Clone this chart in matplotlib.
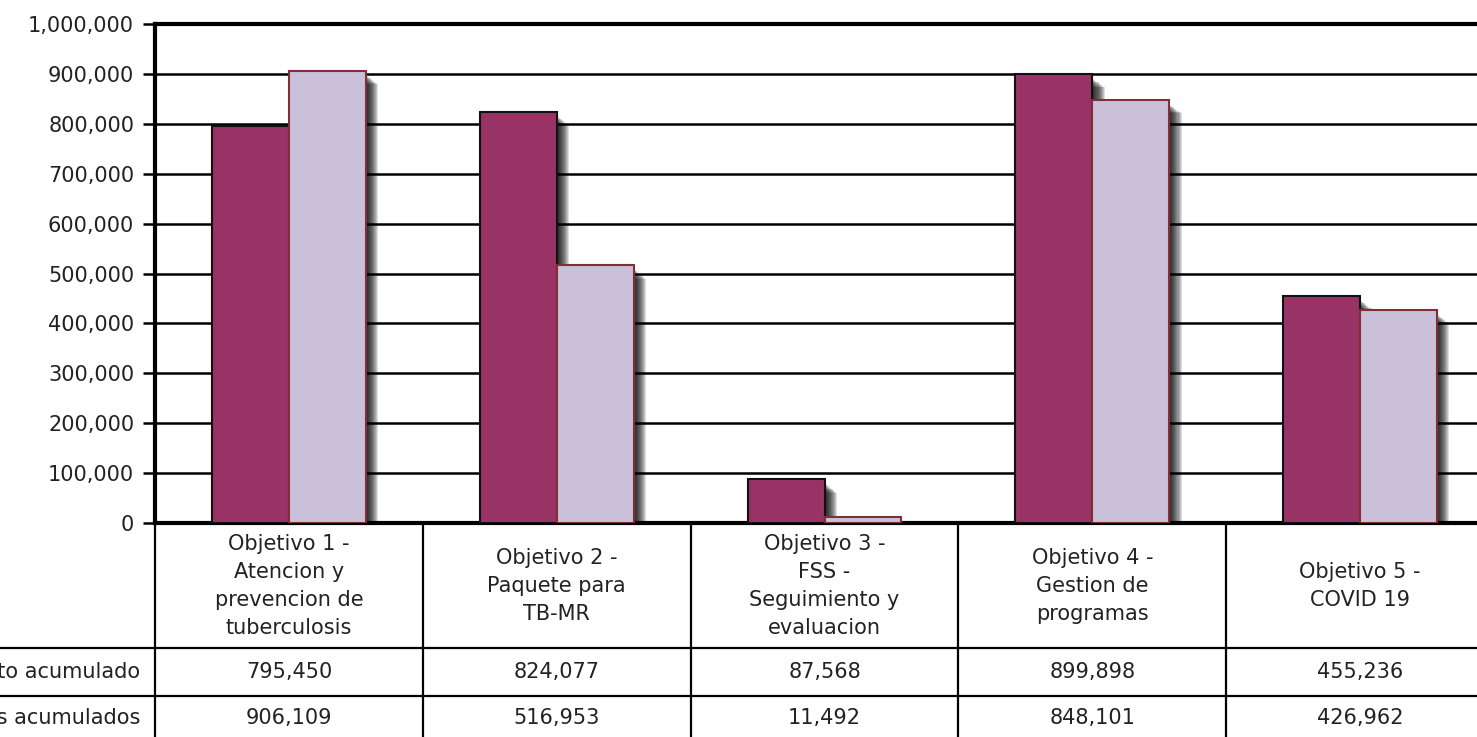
import matplotlib
matplotlib.use("Agg")
import matplotlib.pyplot as plt
import matplotlib.patheffects as pe
from matplotlib.lines import Line2D
from matplotlib.transforms import blended_transform_factory
from matplotlib.ticker import FuncFormatter

categorias = ["Objetivo 1 -\nAtencion y\nprevencion de\ntuberculosis",
              "Objetivo 2 -\nPaquete para\nTB-MR",
              "Objetivo 3 -\nFSS -\nSeguimiento y\nevaluacion",
              "Objetivo 4 -\nGestion de\nprogramas",
              "Objetivo 5 -\nCOVID 19"]
serie_nombres = ["Presupuesto acumulado", "Gastos acumulados"]
presupuesto = [795450, 824077, 87568, 899898, 455236]
gastos = [906109, 516953, 11492, 848101, 426962]

W, H = 1477, 737
fig = plt.figure(figsize=(W / 100, H / 100), dpi=100)
ax = fig.add_axes([155 / W, (H - 523) / H, (1494 - 155) / W, (523 - 24) / H])

txt = "#222222"
fs = 15
x = range(len(categorias))
bw = 0.287

def sombra():
    capas = []
    o = 1.5
    while o <= 9:
        capas.append(pe.SimplePatchShadow(offset=(o, -o * 0.8 - 2.5),
                                          shadow_rgbFace="black", alpha=0.13))
        o += 0.75
    return capas + [pe.Normal()]

for i in x:
    ax.bar(i - bw / 2, presupuesto[i], bw, color="#993366", edgecolor="#111111",
           lw=1.5, zorder=3, path_effects=sombra())
    ax.bar(i + bw / 2, gastos[i], bw, color="#CAC0DA", edgecolor="#7F2F35",
           lw=1.5, zorder=4, path_effects=sombra())

ax.set_xlim(-0.5, 4.5)
ax.set_ylim(0, 1000000)
ax.set_yticks(range(0, 1000001, 100000))
ax.yaxis.set_major_formatter(FuncFormatter(lambda v, p: f"{int(v):,}"))
ax.set_xticks([])
ax.yaxis.grid(True, color="black", lw=1.8, zorder=1)
ax.set_axisbelow(True)
for s in ["left", "top", "bottom"]:
    ax.spines[s].set_linewidth(3)
    ax.spines[s].set_color("black")
ax.spines["right"].set_visible(False)
ax.tick_params(axis="y", direction="out", length=9, width=1.8, labelsize=fs,
               labelcolor=txt, pad=6)

# data table below the chart
tr = blended_transform_factory(ax.transData, fig.transFigure)
fy = lambda py: (H - py) / H
for b in [-0.5, 0.5, 1.5, 2.5, 3.5, 4.5]:
    fig.add_artist(Line2D([b, b], [fy(523), fy(737)], transform=tr, color="black", lw=1.6))
for py in [648, 696]:
    fig.add_artist(Line2D([0, 1], [fy(py), fy(py)], transform=fig.transFigure,
                          color="black", lw=1.6))

for i, c in enumerate(categorias):
    fig.text(i, fy(585.5), c, transform=tr, ha="center", va="center",
             fontsize=fs, color=txt, linespacing=1.5)
    fig.text(i, fy(672), f"{presupuesto[i]:,}", transform=tr, ha="center",
             va="center", fontsize=fs, color=txt)
    fig.text(i, fy(718), f"{gastos[i]:,}", transform=tr, ha="center",
             va="center", fontsize=fs, color=txt)

fig.text(140 / W, fy(672), serie_nombres[0], ha="right", va="center", fontsize=fs, color=txt)
fig.text(140 / W, fy(718), serie_nombres[1], ha="right", va="center", fontsize=fs, color=txt)

fig.savefig("out.png", dpi=100)
